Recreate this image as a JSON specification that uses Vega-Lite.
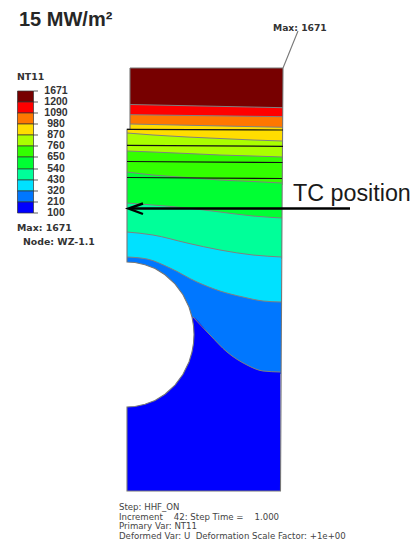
{
"$schema":"https://vega.github.io/schema/vega-lite/v6.json",
"width":415,"height":540,"padding":0,"autosize":{"type":"none"},
"background":"white",
"config":{"view":{"stroke":null}},
"datasets":{
"bands":[
{"band":"1200-1671","part":"a","x":130,"top":68,"bottom":110},{"band":"1200-1671","part":"a","x":283,"top":68,"bottom":110},
{"band":"1090-1200","part":"a","x":130,"top":104.5,"bottom":118},{"band":"1090-1200","part":"a","x":283,"top":107.7,"bottom":118},
{"band":"980-1090","part":"a","x":130,"top":114.7,"bottom":129},{"band":"980-1090","part":"a","x":283,"top":116.7,"bottom":129},
{"band":"870-980","part":"a","x":130,"top":124,"bottom":131},{"band":"870-980","part":"a","x":283,"top":127.3,"bottom":131},
{"band":"870-980","part":"b","x":127,"top":129.3,"bottom":143},{"band":"870-980","part":"b","x":283,"top":130.2,"bottom":143},
{"band":"760-870","part":"a","x":127,"top":133,"bottom":159},{"band":"760-870","part":"a","x":153,"top":135,"bottom":159},{"band":"760-870","part":"a","x":187,"top":137,"bottom":159},{"band":"760-870","part":"a","x":220,"top":138.5,"bottom":159},{"band":"760-870","part":"a","x":253,"top":140,"bottom":159},{"band":"760-870","part":"a","x":282.5,"top":141,"bottom":159},
{"band":"650-760","part":"a","x":127,"top":151,"bottom":185},{"band":"650-760","part":"a","x":153,"top":152,"bottom":185},{"band":"650-760","part":"a","x":187,"top":153.5,"bottom":185},{"band":"650-760","part":"a","x":220,"top":155,"bottom":185},{"band":"650-760","part":"a","x":253,"top":156,"bottom":185},{"band":"650-760","part":"a","x":282.5,"top":157,"bottom":185},
{"band":"540-650","part":"a","x":127,"top":172,"bottom":220},{"band":"540-650","part":"a","x":153,"top":175,"bottom":220},{"band":"540-650","part":"a","x":187,"top":177.5,"bottom":220},{"band":"540-650","part":"a","x":220,"top":180,"bottom":220},{"band":"540-650","part":"a","x":253,"top":181.5,"bottom":220},{"band":"540-650","part":"a","x":282,"top":183,"bottom":220},
{"band":"430-540","part":"a","x":127,"top":203,"bottom":259},{"band":"430-540","part":"a","x":153,"top":205,"bottom":259},{"band":"430-540","part":"a","x":187,"top":208,"bottom":259},{"band":"430-540","part":"a","x":220,"top":212,"bottom":259},{"band":"430-540","part":"a","x":253,"top":216,"bottom":259},{"band":"430-540","part":"a","x":282,"top":218,"bottom":259},
{"band":"320-430","part":"a","x":127,"top":232,"bottom":304},{"band":"320-430","part":"a","x":153,"top":235,"bottom":304},{"band":"320-430","part":"a","x":187,"top":243,"bottom":304},{"band":"320-430","part":"a","x":220,"top":250,"bottom":304},{"band":"320-430","part":"a","x":253,"top":255,"bottom":304},{"band":"320-430","part":"a","x":281.5,"top":257,"bottom":304},
{"band":"210-320","part":"a","x":127,"top":257,"bottom":374},{"band":"210-320","part":"a","x":147,"top":259,"bottom":374},{"band":"210-320","part":"a","x":170,"top":268,"bottom":374},{"band":"210-320","part":"a","x":197,"top":282,"bottom":374},{"band":"210-320","part":"a","x":220,"top":291,"bottom":374},{"band":"210-320","part":"a","x":243,"top":297,"bottom":374},{"band":"210-320","part":"a","x":263,"top":301,"bottom":374},{"band":"210-320","part":"a","x":281,"top":302,"bottom":374},
{"band":"100-210","part":"a","x":127,"top":300,"bottom":491},{"band":"100-210","part":"a","x":193,"top":317,"bottom":491},{"band":"100-210","part":"a","x":210,"top":335,"bottom":491},{"band":"100-210","part":"a","x":227,"top":352,"bottom":491},{"band":"100-210","part":"a","x":247,"top":365,"bottom":491},{"band":"100-210","part":"a","x":263,"top":371,"bottom":491},{"band":"100-210","part":"a","x":280.5,"top":372,"bottom":491}
],
"hole":[
{"x":126,"top":262,"bottom":407},{"x":127,"top":262,"bottom":407},{"x":135,"top":262.5,"bottom":406.5},{"x":145,"top":264.7,"bottom":404.3},{"x":155,"top":268.6,"bottom":400.4},{"x":165,"top":274.8,"bottom":394.2},{"x":175,"top":283.9,"bottom":385.1},{"x":183,"top":294.7,"bottom":374.3},{"x":189,"top":307,"bottom":362},{"x":192,"top":317,"bottom":352},{"x":193.5,"top":325.6,"bottom":343.4},{"x":194,"top":334.5,"bottom":334.5}
],
"contours":[
{"c":"b","i":0,"x":130,"y":104.5},{"c":"b","i":1,"x":283,"y":107.7},
{"c":"d","i":0,"x":130,"y":114.7},{"c":"d","i":1,"x":283,"y":116.7},
{"c":"e","i":0,"x":130,"y":124},{"c":"e","i":1,"x":283,"y":127.3},
{"c":"f","i":0,"x":127,"y":133},{"c":"f","i":1,"x":153,"y":135},{"c":"f","i":2,"x":187,"y":137},{"c":"f","i":3,"x":220,"y":138.5},{"c":"f","i":4,"x":253,"y":140},{"c":"f","i":5,"x":282.5,"y":141},
{"c":"g","i":0,"x":127,"y":151},{"c":"g","i":1,"x":153,"y":152},{"c":"g","i":2,"x":187,"y":153.5},{"c":"g","i":3,"x":220,"y":155},{"c":"g","i":4,"x":253,"y":156},{"c":"g","i":5,"x":282.5,"y":157},
{"c":"h","i":0,"x":127,"y":172},{"c":"h","i":1,"x":153,"y":175},{"c":"h","i":2,"x":187,"y":177.5},{"c":"h","i":3,"x":220,"y":180},{"c":"h","i":4,"x":253,"y":181.5},{"c":"h","i":5,"x":282,"y":183},
{"c":"j","i":0,"x":127,"y":203},{"c":"j","i":1,"x":153,"y":205},{"c":"j","i":2,"x":187,"y":208},{"c":"j","i":3,"x":220,"y":212},{"c":"j","i":4,"x":253,"y":216},{"c":"j","i":5,"x":282,"y":218},
{"c":"k","i":0,"x":127,"y":232},{"c":"k","i":1,"x":153,"y":235},{"c":"k","i":2,"x":187,"y":243},{"c":"k","i":3,"x":220,"y":250},{"c":"k","i":4,"x":253,"y":255},{"c":"k","i":5,"x":281.5,"y":257},
{"c":"l","i":0,"x":127,"y":257},{"c":"l","i":1,"x":147,"y":259},{"c":"l","i":2,"x":170,"y":268},{"c":"l","i":3,"x":197,"y":282},{"c":"l","i":4,"x":220,"y":291},{"c":"l","i":5,"x":243,"y":297},{"c":"l","i":6,"x":263,"y":301},{"c":"l","i":7,"x":281,"y":302},
{"c":"m","i":0,"x":193,"y":317},{"c":"m","i":1,"x":210,"y":335},{"c":"m","i":2,"x":227,"y":352},{"c":"m","i":3,"x":247,"y":365},{"c":"m","i":4,"x":263,"y":371},{"c":"m","i":5,"x":280.5,"y":372}
],
"frame":[
{"c":"outline","i":0,"x":130,"y":68},{"c":"outline","i":1,"x":283,"y":68},{"c":"outline","i":2,"x":282,"y":218},{"c":"outline","i":3,"x":280.5,"y":491},{"c":"outline","i":4,"x":127,"y":491},{"c":"outline","i":5,"x":127,"y":407},{"c":"outline","i":6,"x":135,"y":406.5},{"c":"outline","i":7,"x":145,"y":404.3},{"c":"outline","i":8,"x":155,"y":400.4},{"c":"outline","i":9,"x":165,"y":394.2},{"c":"outline","i":10,"x":175,"y":385.1},{"c":"outline","i":11,"x":183,"y":374.3},{"c":"outline","i":12,"x":189,"y":362},{"c":"outline","i":13,"x":192,"y":352},{"c":"outline","i":14,"x":193.5,"y":343.4},{"c":"outline","i":15,"x":194,"y":334.5},{"c":"outline","i":16,"x":193.5,"y":325.6},{"c":"outline","i":17,"x":192,"y":317},{"c":"outline","i":18,"x":189,"y":307},{"c":"outline","i":19,"x":183,"y":294.7},{"c":"outline","i":20,"x":175,"y":283.9},{"c":"outline","i":21,"x":165,"y":274.8},{"c":"outline","i":22,"x":155,"y":268.6},{"c":"outline","i":23,"x":145,"y":264.7},{"c":"outline","i":24,"x":135,"y":262.5},{"c":"outline","i":25,"x":127,"y":262},{"c":"outline","i":26,"x":127,"y":129.3},{"c":"outline","i":27,"x":130,"y":129.3},{"c":"outline","i":28,"x":130,"y":68},
{"c":"leader","i":0,"x":283,"y":68},{"c":"leader","i":1,"x":298,"y":31}
],
"black":[
{"c":"m1","i":0,"x":127,"y":129.3},{"c":"m1","i":1,"x":283,"y":130},
{"c":"m2","i":0,"x":127,"y":145.3},{"c":"m2","i":1,"x":283,"y":146.3},
{"c":"m3","i":0,"x":127,"y":161.5},{"c":"m3","i":1,"x":282.5,"y":162.5},
{"c":"m4","i":0,"x":127,"y":177.5},{"c":"m4","i":1,"x":282,"y":178.5}
],
"arrow":[
{"c":"shaft","i":0,"x":129,"y":208.5},{"c":"shaft","i":1,"x":350,"y":208.5},
{"c":"head","i":0,"x":143,"y":203.5},{"c":"head","i":1,"x":128.5,"y":208.5},{"c":"head","i":2,"x":143,"y":214}
],
"legend":[
{"band":"1200-1671","low":102,"high":91},{"band":"1090-1200","low":113,"high":102},{"band":"980-1090","low":124,"high":113},{"band":"870-980","low":135,"high":124},{"band":"760-870","low":146,"high":135},{"band":"650-760","low":157,"high":146},{"band":"540-650","low":169,"high":157},{"band":"430-540","low":180,"high":169},{"band":"320-430","low":191,"high":180},{"band":"210-320","low":202,"high":191},{"band":"100-210","low":213,"high":202}
],
"ticks":[
{"label":"1671","y":91},{"label":"1200","y":102},{"label":"1090","y":113},{"label":"980","y":124},{"label":"870","y":135},{"label":"760","y":146},{"label":"650","y":157},{"label":"540","y":169},{"label":"430","y":180},{"label":"320","y":191},{"label":"210","y":202},{"label":"100","y":213}
],
"notes":[
{"text":"NT11","x":17,"y":80},{"text":"Max: 1671","x":17,"y":231},{"text":"Node: WZ-1.1","x":23,"y":245}
],
"footer":[
{"text":"Step: HHF_ON","x":119,"y":510},{"text":"Increment\u00a0\u00a0\u00a0\u00a042: Step Time =\u00a0\u00a0\u00a0\u00a01.000","x":119,"y":519.5},{"text":"Primary Var: NT11","x":119,"y":529},{"text":"Deformed Var: U\u00a0\u00a0Deformation Scale Factor: +1e+00","x":119,"y":538.5}
]
},
"layer":[
{"data":{"name":"bands"},"mark":{"type":"area","interpolate":"monotone"},
 "encoding":{
  "x":{"field":"x","type":"quantitative","scale":{"domain":[0,415],"nice":false},"axis":null},
  "y":{"field":"top","type":"quantitative","scale":{"domain":[540,0],"nice":false},"axis":null,"stack":null},
  "y2":{"field":"bottom"},
  "detail":{"field":"part"},
  "color":{"field":"band","type":"nominal","legend":null,"sort":null,
   "scale":{"domain":["1200-1671","1090-1200","980-1090","870-980","760-870","650-760","540-650","430-540","320-430","210-320","100-210"],
   "range":["#770000","#ff0000","#ff7700","#ffdd00","#aaff00","#33ff00","#00ff33","#00ff99","#00e1ff","#0077ff","#0000ff"]}}}},
{"data":{"name":"hole"},"mark":{"type":"area","color":"white"},
 "encoding":{"x":{"field":"x","type":"quantitative","scale":{"domain":[0,415],"nice":false},"axis":null},"y":{"field":"top","type":"quantitative","stack":null,"scale":{"domain":[540,0],"nice":false},"axis":null},"y2":{"field":"bottom"}}},
{"data":{"name":"contours"},"mark":{"type":"line","color":"#808080","strokeWidth":1,"interpolate":"monotone"},
 "encoding":{"x":{"field":"x","type":"quantitative","scale":{"domain":[0,415],"nice":false},"axis":null},"y":{"field":"y","type":"quantitative","scale":{"domain":[540,0],"nice":false},"axis":null},"detail":{"field":"c"},"order":{"field":"i"}}},
{"data":{"name":"frame"},"mark":{"type":"line","color":"#777777","strokeWidth":1.1},
 "encoding":{"x":{"field":"x","type":"quantitative","scale":{"domain":[0,415],"nice":false},"axis":null},"y":{"field":"y","type":"quantitative","scale":{"domain":[540,0],"nice":false},"axis":null},"detail":{"field":"c"},"order":{"field":"i"}}},
{"data":{"name":"black"},"mark":{"type":"line","color":"#111111","strokeWidth":1.2},
 "encoding":{"x":{"field":"x","type":"quantitative","scale":{"domain":[0,415],"nice":false},"axis":null},"y":{"field":"y","type":"quantitative","scale":{"domain":[540,0],"nice":false},"axis":null},"detail":{"field":"c"},"order":{"field":"i"}}},
{"data":{"name":"arrow"},"mark":{"type":"line","color":"#000000","strokeWidth":2.4},
 "encoding":{"x":{"field":"x","type":"quantitative","scale":{"domain":[0,415],"nice":false},"axis":null},"y":{"field":"y","type":"quantitative","scale":{"domain":[540,0],"nice":false},"axis":null},"detail":{"field":"c"},"order":{"field":"i"}}},
{"data":{"name":"legend"},"mark":{"type":"rect","stroke":"#333333","strokeWidth":0.7},
 "encoding":{"x":{"datum":17.5,"type":"quantitative","scale":{"domain":[0,415],"nice":false},"axis":null},"x2":{"datum":33.5},"y":{"field":"low","type":"quantitative","scale":{"domain":[540,0],"nice":false},"axis":null},"y2":{"field":"high"},"color":{"field":"band","type":"nominal","legend":null}}},
{"data":{"name":"ticks"},"mark":{"type":"rule","color":"#333333","strokeWidth":0.8},
 "encoding":{"x":{"datum":33.5,"type":"quantitative","scale":{"domain":[0,415],"nice":false},"axis":null},"x2":{"datum":38},"y":{"field":"y","type":"quantitative","scale":{"domain":[540,0],"nice":false},"axis":null}}},
{"data":{"name":"ticks"},"mark":{"type":"text","font":"Liberation Sans","fontWeight":"bold","fontSize":10.5,"align":"center","baseline":"middle","color":"#333333"},
 "encoding":{"x":{"datum":56,"type":"quantitative","scale":{"domain":[0,415],"nice":false},"axis":null},"y":{"field":"y","type":"quantitative","scale":{"domain":[540,0],"nice":false},"axis":null},"text":{"field":"label"}}},
{"data":{"name":"notes"},"mark":{"type":"text","font":"DejaVu Sans","fontWeight":"bold","fontSize":9.4,"align":"left","baseline":"alphabetic","color":"#333333"},
 "encoding":{"x":{"field":"x","type":"quantitative","scale":{"domain":[0,415],"nice":false},"axis":null},"y":{"field":"y","type":"quantitative","scale":{"domain":[540,0],"nice":false},"axis":null},"text":{"field":"text"}}},
{"data":{"values":[{"text":"Max: 1671","x":273,"y":30.5}]},"mark":{"type":"text","font":"DejaVu Sans","fontWeight":"bold","fontSize":9.2,"align":"left","baseline":"alphabetic","color":"#333333"},
 "encoding":{"x":{"field":"x","type":"quantitative","scale":{"domain":[0,415],"nice":false},"axis":null},"y":{"field":"y","type":"quantitative","scale":{"domain":[540,0],"nice":false},"axis":null},"text":{"field":"text"}}},
{"data":{"values":[{"text":"15 MW/m²","x":19,"y":26}]},"mark":{"type":"text","font":"Liberation Sans","fontWeight":"bold","fontSize":20,"align":"left","baseline":"alphabetic","color":"#262626"},
 "encoding":{"x":{"field":"x","type":"quantitative","scale":{"domain":[0,415],"nice":false},"axis":null},"y":{"field":"y","type":"quantitative","scale":{"domain":[540,0],"nice":false},"axis":null},"text":{"field":"text"}}},
{"data":{"values":[{"text":"TC position","x":293,"y":201}]},"mark":{"type":"text","font":"Liberation Sans","fontSize":23.3,"align":"left","baseline":"alphabetic","color":"#1a1a1a"},
 "encoding":{"x":{"field":"x","type":"quantitative","scale":{"domain":[0,415],"nice":false},"axis":null},"y":{"field":"y","type":"quantitative","scale":{"domain":[540,0],"nice":false},"axis":null},"text":{"field":"text"}}},
{"data":{"name":"footer"},"mark":{"type":"text","font":"DejaVu Sans","fontSize":8.6,"align":"left","baseline":"alphabetic","color":"#444444"},
 "encoding":{"x":{"field":"x","type":"quantitative","scale":{"domain":[0,415],"nice":false},"axis":null},"y":{"field":"y","type":"quantitative","scale":{"domain":[540,0],"nice":false},"axis":null},"text":{"field":"text"}}}
]
}
